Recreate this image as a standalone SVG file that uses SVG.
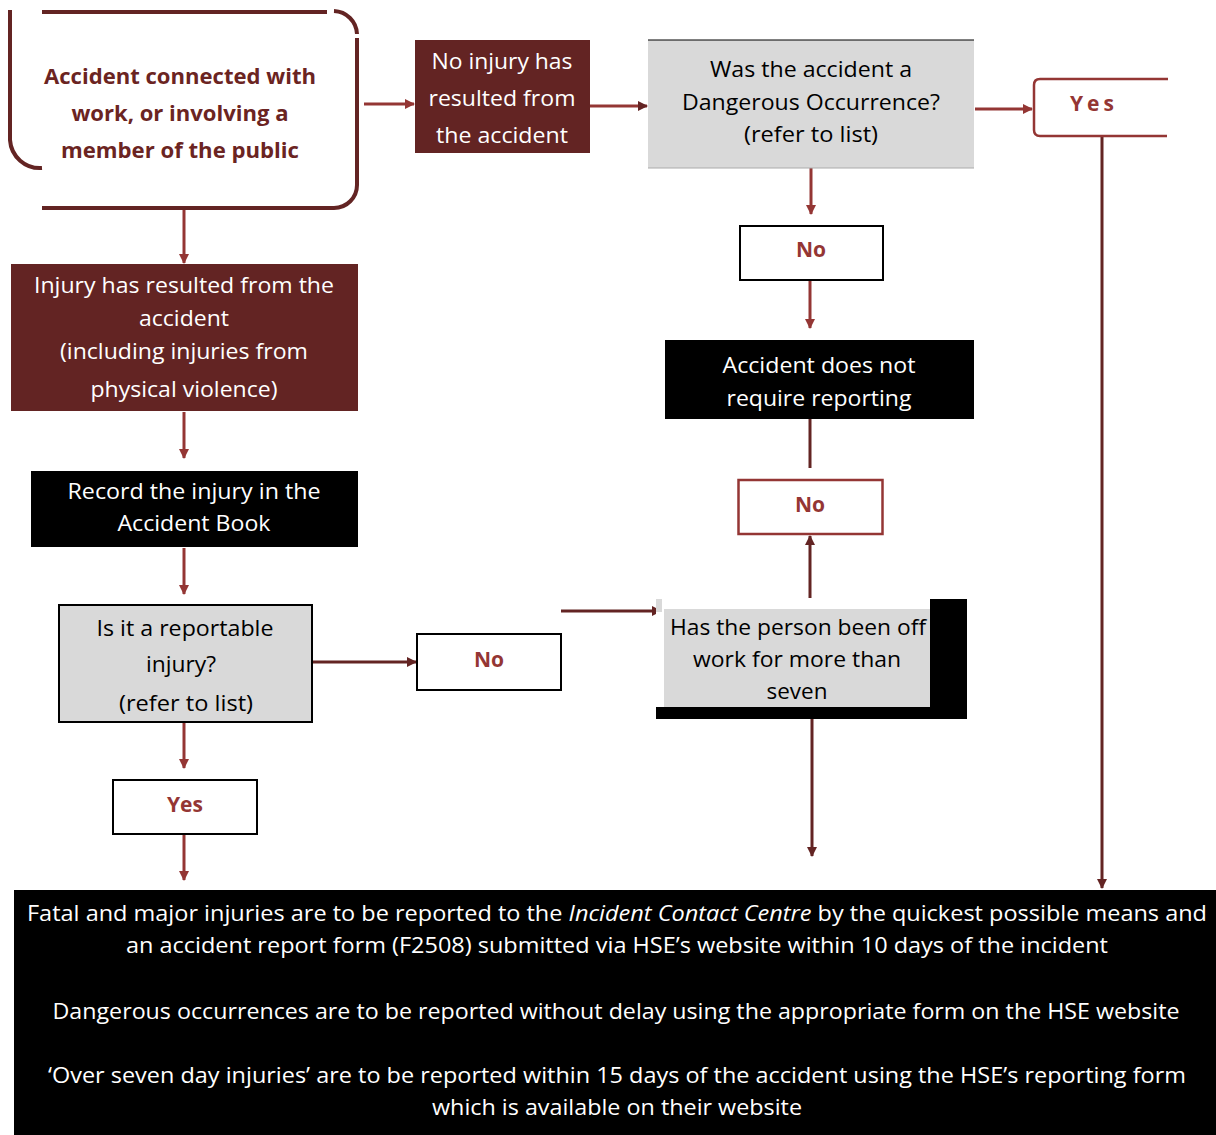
<svg xmlns="http://www.w3.org/2000/svg" width="1216" height="1135" viewBox="0 0 1216 1135">
<defs>
<marker id="ah" markerWidth="10" markerHeight="10" refX="9" refY="5" orient="auto" markerUnits="userSpaceOnUse"><path d="M0,0 L10,5 L0,10 z" fill="#943634"/></marker>
<marker id="ahd" markerWidth="10" markerHeight="10" refX="9" refY="5" orient="auto" markerUnits="userSpaceOnUse"><path d="M0,0 L10,5 L0,10 z" fill="#632423"/></marker>
<style>
text{font-family:"Open Sans","Liberation Sans",sans-serif;font-size:21px;text-anchor:middle}
.w{fill:#ffffff}
.k{fill:#000000}
.b{font-weight:bold;fill:#943634}
.n1{font-weight:bold;fill:#6b2422}
.c{fill:none;stroke:#943634;stroke-width:3}
.cd{fill:none;stroke:#632423;stroke-width:3}
.box{fill:#ffffff;stroke:#000000;stroke-width:2}
</style>
</defs>
<rect width="1216" height="1135" fill="#ffffff"/>
<g id="connectors">
<line class="c" x1="364" y1="104" x2="414" y2="104" marker-end="url(#ah)"/>
<line class="c" x1="590" y1="106" x2="647" y2="106" marker-end="url(#ahd)"/>
<line class="c" x1="975" y1="109" x2="1032" y2="109" marker-end="url(#ah)"/>
<line class="cd" x1="1102" y1="137" x2="1102" y2="888" marker-end="url(#ahd)"/>
<line class="c" x1="811" y1="168" x2="811" y2="214" marker-end="url(#ah)"/>
<line class="c" x1="810" y1="281" x2="810" y2="328" marker-end="url(#ah)"/>
<line class="cd" x1="810" y1="419" x2="810" y2="468"/>
<line class="cd" x1="810" y1="598" x2="810" y2="536" marker-end="url(#ahd)"/>
<line class="cd" x1="561" y1="611" x2="661" y2="611" marker-end="url(#ahd)"/>
<line class="cd" x1="812" y1="719" x2="812" y2="856" marker-end="url(#ahd)"/>
<line class="c" x1="184" y1="208" x2="184" y2="263" marker-end="url(#ah)"/>
<line class="c" x1="184" y1="412" x2="184" y2="458" marker-end="url(#ah)"/>
<line class="c" x1="184" y1="548" x2="184" y2="594" marker-end="url(#ah)"/>
<line class="cd" x1="312" y1="662" x2="416" y2="662" marker-end="url(#ahd)"/>
<line class="c" x1="184" y1="723" x2="184" y2="768" marker-end="url(#ah)"/>
<line class="c" x1="184" y1="835" x2="184" y2="880" marker-end="url(#ah)"/>
</g>
<g id="node-accident">
<path d="M42,12 H327 M334,11 A24,24 0 0 1 357,34 M357,38 V185 A23,23 0 0 1 334,208 H42 M10,10 V140 A30,30 0 0 0 42,168" fill="none" stroke="#632423" stroke-width="4"/>
<text class="n1" x="180" y="84" textLength="272" lengthAdjust="spacingAndGlyphs">Accident connected with</text>
<text class="n1" x="180" y="121" textLength="217" lengthAdjust="spacingAndGlyphs">work, or involving a</text>
<text class="n1" x="180" y="158" textLength="238" lengthAdjust="spacingAndGlyphs">member of the public</text>
</g>
<g id="node-noinjury">
<rect x="415" y="40" width="175" height="113" fill="#632423"/>
<text class="w" x="502" y="69" textLength="141" lengthAdjust="spacingAndGlyphs">No injury has</text>
<text class="w" x="502" y="106" textLength="147" lengthAdjust="spacingAndGlyphs">resulted from</text>
<text class="w" x="502" y="143" textLength="132" lengthAdjust="spacingAndGlyphs">the accident</text>
</g>
<g id="node-dangerous">
<rect x="648" y="40" width="326" height="128" fill="#d9d9d9"/>
<line x1="648" y1="40" x2="974" y2="40" stroke="#000" stroke-width="1"/>
<line x1="648" y1="168" x2="974" y2="168" stroke="#aaa" stroke-width="1"/>
<text class="k" x="811" y="77" textLength="202" lengthAdjust="spacingAndGlyphs">Was the accident a</text>
<text class="k" x="811" y="110" textLength="258" lengthAdjust="spacingAndGlyphs">Dangerous Occurrence?</text>
<text class="k" x="811" y="142" textLength="134" lengthAdjust="spacingAndGlyphs">(refer to list)</text>
</g>
<g id="node-yes-top">
<path d="M1168,79 H1040 Q1034,79 1034,85 V130 Q1034,136 1040,136 H1167" fill="none" stroke="#943634" stroke-width="2.5"/>
<text class="b" x="1094" y="111" letter-spacing="4">Yes</text>
</g>
<g id="node-no-1">
<rect class="box" x="740" y="226" width="143" height="54"/>
<text class="b" x="811" y="257">No</text>
</g>
<g id="node-not-required">
<rect x="665" y="340" width="309" height="79" fill="#000"/>
<text class="w" x="819" y="373" textLength="193" lengthAdjust="spacingAndGlyphs">Accident does not</text>
<text class="w" x="819" y="406" textLength="185" lengthAdjust="spacingAndGlyphs">require reporting</text>
</g>
<g id="node-no-2">
<rect x="738.5" y="480" width="144" height="54" fill="#fff" stroke="#943634" stroke-width="2.5"/>
<text class="b" x="810" y="512">No</text>
</g>
<g id="node-seven">
<rect x="656" y="599" width="311" height="120" fill="#000"/>
<rect x="656" y="599" width="274" height="108" fill="#fff"/>
<rect x="656" y="599" width="6" height="13" fill="#d9d9d9"/>
<rect x="664" y="609" width="266" height="98" fill="#d9d9d9"/>
<text class="k" x="798" y="635" textLength="256" lengthAdjust="spacingAndGlyphs">Has the person been off</text>
<text class="k" x="797" y="667" textLength="208" lengthAdjust="spacingAndGlyphs">work for more than</text>
<text class="k" x="797" y="699" textLength="61" lengthAdjust="spacingAndGlyphs">seven</text>
</g>
<g id="node-injury">
<rect x="11" y="264" width="347" height="147" fill="#632423"/>
<text class="w" x="184" y="293" textLength="300" lengthAdjust="spacingAndGlyphs">Injury has resulted from the</text>
<text class="w" x="184" y="326" textLength="90" lengthAdjust="spacingAndGlyphs">accident</text>
<text class="w" x="184" y="359" textLength="248" lengthAdjust="spacingAndGlyphs">(including injuries from</text>
<text class="w" x="184" y="397" textLength="187" lengthAdjust="spacingAndGlyphs">physical violence)</text>
</g>
<g id="node-record">
<rect x="31" y="471" width="327" height="76" fill="#000"/>
<text class="w" x="194" y="499" textLength="253" lengthAdjust="spacingAndGlyphs">Record the injury in the</text>
<text class="w" x="194" y="531" textLength="153" lengthAdjust="spacingAndGlyphs">Accident Book</text>
</g>
<g id="node-reportable">
<rect x="59" y="605" width="253" height="117" fill="#d9d9d9" stroke="#000" stroke-width="2"/>
<text class="k" x="185" y="636" textLength="177" lengthAdjust="spacingAndGlyphs">Is it a reportable</text>
<text class="k" x="181" y="672" textLength="70" lengthAdjust="spacingAndGlyphs">injury?</text>
<text class="k" x="186" y="711" textLength="134" lengthAdjust="spacingAndGlyphs">(refer to list)</text>
</g>
<g id="node-no-3">
<rect class="box" x="417" y="634" width="144" height="56"/>
<text class="b" x="489" y="667">No</text>
</g>
<g id="node-yes-bottom">
<rect class="box" x="113" y="780" width="144" height="54"/>
<text class="b" x="185" y="812">Yes</text>
</g>
<g id="node-report">
<rect x="14" y="890" width="1202" height="245" fill="#000"/>
<text class="w" x="617" y="921" textLength="1180" lengthAdjust="spacingAndGlyphs">Fatal and major injuries are to be reported to the <tspan font-style="italic">Incident Contact Centre</tspan> by the quickest possible means and</text>
<text class="w" x="617" y="953" textLength="982" lengthAdjust="spacingAndGlyphs">an accident report form (F2508) submitted via HSE’s website within 10 days of the incident</text>
<text class="w" x="616" y="1019" textLength="1127" lengthAdjust="spacingAndGlyphs">Dangerous occurrences are to be reported without delay using the appropriate form on the HSE website</text>
<text class="w" x="617" y="1083" textLength="1138" lengthAdjust="spacingAndGlyphs">‘Over seven day injuries’ are to be reported within 15 days of the accident using the HSE’s reporting form</text>
<text class="w" x="617" y="1115" textLength="370" lengthAdjust="spacingAndGlyphs">which is available on their website</text>
</g>
</svg>
